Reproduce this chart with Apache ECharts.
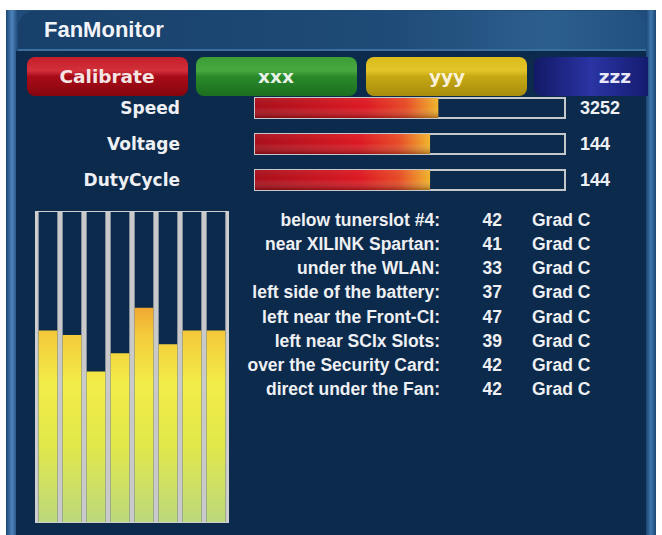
<!DOCTYPE html>
<html>
<head>
<meta charset="utf-8">
<script src="https://cdn.jsdelivr.net/npm/echarts@6/dist/echarts.min.js"></script>
<style>
  html, body { margin: 0; padding: 0; background: #ffffff; }
  #main { width: 662px; height: 535px; }
</style>
</head>
<body>
<div id="main"></div>
<script>
// data
var titleText = 'FanMonitor';
var buttonLabels = ['Calibrate', 'xxx', 'yyy', 'zzz'];
var gaugeNames = ['Speed', 'Voltage', 'DutyCycle'];
var gaugeValues = [3252, 144, 144];
var gaugeMax = [5500, 255, 255];
var sensorNames = ['below tunerslot #4:', 'near XILINK Spartan:', 'under the WLAN:', 'left side of the battery:',
  'left near the Front-CI:', 'left near SCIx Slots:', 'over the Security Card:', 'direct under the Fan:'];
var sensorTemps = [42, 41, 33, 37, 47, 39, 42, 42];
var tempUnit = 'Grad C';
var tempMax = 68;

var navy = '#0c2a4b';
var txt = '#eef0f4';
var font = 'Liberation Sans';
var wideFont = 'DejaVu Sans';

var gaugeRatio = [];
for (var i = 0; i < gaugeValues.length; i++) {
  gaugeRatio[i] = gaugeValues[i] / gaugeMax[i];
}

function vgrad(stops) {
  return new echarts.graphic.LinearGradient(0, 0, 0, 1, stops);
}

// buttons
var buttons = [
  { x: 27, w: 161, r: 8, tx: 107, align: 'center', c: vgrad([{offset: 0, color: '#c41e2a'}, {offset: 0.35, color: '#d2303a'}, {offset: 0.5, color: '#a80c18'}, {offset: 1, color: '#86050f'}]), tc: '#f4e4e4' },
  { x: 196, w: 161, r: 8, tx: 276, align: 'center', c: vgrad([{offset: 0, color: '#3c9c36'}, {offset: 0.35, color: '#48a840'}, {offset: 0.5, color: '#2a8a2a'}, {offset: 1, color: '#1c6e20'}]), tc: '#e8f2e8' },
  { x: 366, w: 161, r: 8, tx: 447, align: 'center', c: vgrad([{offset: 0, color: '#dcbc1c'}, {offset: 0.35, color: '#e2c428'}, {offset: 0.5, color: '#c6a814'}, {offset: 1, color: '#a88c0c'}]), tc: '#faf2d8' },
  { x: 534, w: 114, r: [8, 0, 0, 8], tx: 631, align: 'right', c: new echarts.graphic.LinearGradient(0, 0, 1, 0, [{offset: 0, color: '#121a66'}, {offset: 0.5, color: '#2a34a4'}, {offset: 1, color: '#141c70'}]), tc: '#e8e8f8' }
];
var graphics = [
  { type: 'rect', z: -20, shape: { x: 6, y: 10, width: 650, height: 525 }, style: { fill: '#1f4c7a' } },
  { type: 'rect', z: -19, shape: { x: 6, y: 10, width: 12, height: 525 },
    style: { fill: new echarts.graphic.LinearGradient(0, 0, 1, 0, [{offset: 0, color: '#1b4675'}, {offset: 0.5, color: '#4d84ba'}, {offset: 1, color: '#1b4675'}]) } },
  { type: 'rect', z: -19, shape: { x: 646, y: 10, width: 10, height: 525 },
    style: { fill: new echarts.graphic.LinearGradient(0, 0, 1, 0, [{offset: 0, color: '#1b4675'}, {offset: 0.5, color: '#3f76aa'}, {offset: 1, color: '#1b4675'}]) } },
  { type: 'rect', z: -18, shape: { x: 18, y: 11, width: 628, height: 40, r: [16, 16, 0, 0] },
    style: { fill: new echarts.graphic.LinearGradient(0, 0, 1, 0, [{offset: 0, color: '#18406a'}, {offset: 0.6, color: '#1f4b78'}, {offset: 0.85, color: '#2d5f8e'}, {offset: 1, color: '#20507e'}]) } },
  { type: 'rect', z: -17, shape: { x: 18, y: 49, width: 628, height: 2 }, style: { fill: '#3c6f9e' } },
  { type: 'rect', z: -17, shape: { x: 16, y: 51, width: 630, height: 484 }, style: { fill: navy } }
];
for (var b = 0; b < buttons.length; b++) {
  graphics.push({ type: 'rect', z: -10, shape: { x: buttons[b].x, y: 57, width: buttons[b].w, height: 39, r: buttons[b].r }, style: { fill: buttons[b].c } });
  graphics.push({ type: 'text', z: 50, style: { x: buttons[b].tx, y: 76, text: buttonLabels[b], fill: buttons[b].tc,
    font: 'bold 18.5px "' + wideFont + '"', textAlign: buttons[b].align, textVerticalAlign: 'middle' } });
}

var myChart = echarts.init(document.getElementById('main'), null, { renderer: 'svg' });
var option = {
  animation: false,
  backgroundColor: '#ffffff',
  textStyle: { fontFamily: font },
  title: {
    text: titleText,
    left: 44,
    top: 18,
    padding: 0,
    textStyle: { color: '#f2f4f8', fontSize: 22, fontWeight: 'bold', fontFamily: font }
  },
  graphic: graphics,
  grid: [
    // temperature columns
    { left: 36, top: 212, width: 192, height: 310, show: true, backgroundColor: '#c9c9c9', borderColor: '#cfcfcf', borderWidth: 2 },
    // speed / voltage / duty bars
    { left: 255, top: 90, width: 310, height: 108 },
    // sensor list
    { left: 442, top: 208, width: 60, height: 193 }
  ],
  xAxis: [
    { gridIndex: 0, type: 'category', data: sensorNames, show: false },
    { gridIndex: 1, type: 'value', min: 0, max: 1, show: false },
    { gridIndex: 2, type: 'value', show: false }
  ],
  yAxis: [
    { gridIndex: 0, type: 'value', min: 0, max: tempMax, show: false },
    {
      gridIndex: 1, type: 'category', inverse: true, data: gaugeNames, position: 'left',
      axisLine: { show: false }, axisTick: { show: false },
      axisLabel: { color: txt, fontSize: 17, fontWeight: 'bold', fontFamily: wideFont, margin: 75, padding: [0, 0, 3, 0] }
    },
    {
      gridIndex: 1, type: 'category', inverse: true, data: gaugeValues.map(String), position: 'right',
      axisLine: { show: false }, axisTick: { show: false },
      axisLabel: { color: txt, fontSize: 18, fontWeight: 'bold', margin: 15, padding: [0, 0, 2, 0] }
    },
    {
      gridIndex: 2, type: 'category', inverse: true, data: sensorNames, position: 'left',
      axisLine: { show: false }, axisTick: { show: false },
      axisLabel: { color: txt, fontSize: 17.5, fontWeight: 'bold', margin: 2 }
    },
    {
      gridIndex: 2, type: 'category', inverse: true, data: sensorTemps.map(String), position: 'right',
      axisLine: { show: false }, axisTick: { show: false },
      axisLabel: { color: txt, fontSize: 17.5, fontWeight: 'bold', margin: 0, align: 'right' }
    },
    {
      gridIndex: 2, type: 'category', inverse: true, data: sensorTemps.map(function () { return tempUnit; }), position: 'right', offset: 30,
      axisLine: { show: false }, axisTick: { show: false },
      axisLabel: { color: txt, fontSize: 17.5, fontWeight: 'bold', margin: 0, align: 'left' }
    }
  ],
  series: [
    {
      type: 'bar',
      xAxisIndex: 0,
      yAxisIndex: 0,
      data: sensorTemps,
      barCategoryGap: '22%',
      showBackground: true,
      backgroundStyle: { color: navy },
      itemStyle: {
        color: {
          type: 'linear', x: 0, y: 212, x2: 0, y2: 522, global: true,
          colorStops: [
            { offset: 0, color: '#ee7e28' },
            { offset: 0.3, color: '#f0a432' },
            { offset: 0.4, color: '#f4cc3c' },
            { offset: 0.55, color: '#f2ec48' },
            { offset: 0.75, color: '#e2e84a' },
            { offset: 1, color: '#bcd87c' }
          ]
        }
      }
    },
    {
      type: 'bar',
      xAxisIndex: 1,
      yAxisIndex: 1,
      data: gaugeRatio,
      barWidth: 20,
      showBackground: true,
      backgroundStyle: { color: navy, borderColor: '#c6c8cc', borderWidth: 2 },
      itemStyle: {
        color: new echarts.graphic.LinearGradient(0, 0, 1, 0, [
          { offset: 0, color: '#a80e1a' },
          { offset: 0.6, color: '#dc1822' },
          { offset: 0.82, color: '#e64a26' },
          { offset: 1, color: '#f0b42a' }
        ])
      }
    },
    // shading on top of the gauge fill (lighter top, darker bottom)
    {
      type: 'bar',
      xAxisIndex: 1,
      yAxisIndex: 1,
      data: gaugeRatio,
      barWidth: 20,
      barGap: '-100%',
      silent: true,
      itemStyle: {
        color: vgrad([
          { offset: 0, color: 'rgba(255,255,255,0.06)' },
          { offset: 0.45, color: 'rgba(255,255,255,0)' },
          { offset: 1, color: 'rgba(40,0,0,0.35)' }
        ])
      }
    }
  ]
};
option && myChart.setOption(option);
</script>
</body>
</html>
